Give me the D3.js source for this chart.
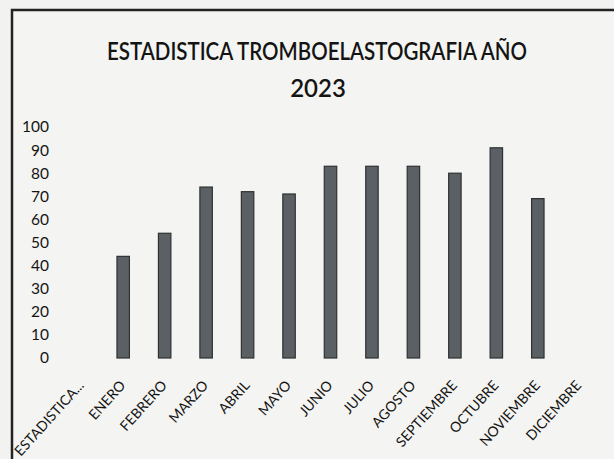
<!DOCTYPE html>
<html>
<head>
<meta charset="utf-8">
<script src="https://cdn.jsdelivr.net/npm/d3@7"></script>
<style>
body{margin:0;background:#f2f2f0;}
text{font-family:Lato,"Open Sans",sans-serif;fill:#141414;}
</style>
</head>
<body>
<script>
// data
const categories = ["ESTADISTICA...","ENERO","FEBRERO","MARZO","ABRIL","MAYO","JUNIO",
	"JULIO","AGOSTO","SEPTIEMBRE","OCTUBRE","NOVIEMBRE","DICIEMBRE"];
const values = [null,44,54,74,72,71,83,83,83,80,91,69,null];
const yTicks = [0,10,20,30,40,50,60,70,80,90,100];
const titleLines = ["ESTADISTICA TROMBOELASTOGRAFIA AÑO","2023"];

const width = 614, height = 459;
const svg = d3.select("body").append("svg")
	.attr("width",width)
	.attr("height",height);

// chart border (cut by the photo on right and bottom)
svg.append("rect")
	.attr("x",12).attr("y",10)
	.attr("width",width+20).attr("height",height+20)
	.attr("fill","#f4f4f2")
	.attr("stroke","#222")
	.attr("stroke-width",2.5);

//title
svg.append("text")
	.attr("x",317).attr("y",60)
	.attr("text-anchor","middle")
	.attr("font-size",24)
	.attr("font-weight",600)
	.attr("textLength",420)
	.attr("lengthAdjust","spacingAndGlyphs")
	.text(titleLines[0]);
svg.append("text")
	.attr("x",318).attr("y",97)
	.attr("text-anchor","middle")
	.attr("font-size",24)
	.attr("font-weight",600)
	.text(titleLines[1]);

let xScale = d3.scaleBand()
	.domain(categories)
	.range([61,600])
	.paddingInner(0.7)
	.paddingOuter(0.35);
let yScale = d3.scaleLinear()
	.domain([0,100])
	.range([358,127]);

//y-axis labels, no line
let yAxis = svg.append("g")
	.attr("transform","translate(52,0)")
	.call(d3.axisLeft(yScale).tickValues(yTicks).tickSize(0).tickPadding(3));
yAxis.select(".domain").remove();
yAxis.selectAll("text")
	.attr("font-family","Lato, sans-serif")
	.attr("font-size",15.5)
	.attr("fill","#141414");

//x-axis labels rotated
let xAxis = svg.append("g")
	.attr("transform","translate(0,366)")
	.call(d3.axisBottom(xScale).tickSize(0).tickPadding(0));
xAxis.select(".domain").remove();
xAxis.selectAll("text")
	.attr("font-family","Lato, sans-serif")
	.attr("font-size",14)
	.attr("fill","#141414")
	.attr("text-anchor","end")
	.attr("y",0)
	.attr("dy",0)
	.attr("transform","translate(3,20) rotate(-48)");

//bars
svg.selectAll(".bar")
	.data(categories.map((c,i)=>({c:c,v:values[i]})).filter(d=>d.v!=null))
	.enter().append("rect")
		.attr("class","bar")
		.attr("x",d=>xScale(d.c))
		.attr("width",xScale.bandwidth())
		.attr("y",d=>yScale(d.v))
		.attr("height",d=>yScale(0)-yScale(d.v))
		.attr("fill","#5b6064")
		.attr("stroke","#2e3133")
		.attr("stroke-width",1.2);
</script>
</body>
</html>
